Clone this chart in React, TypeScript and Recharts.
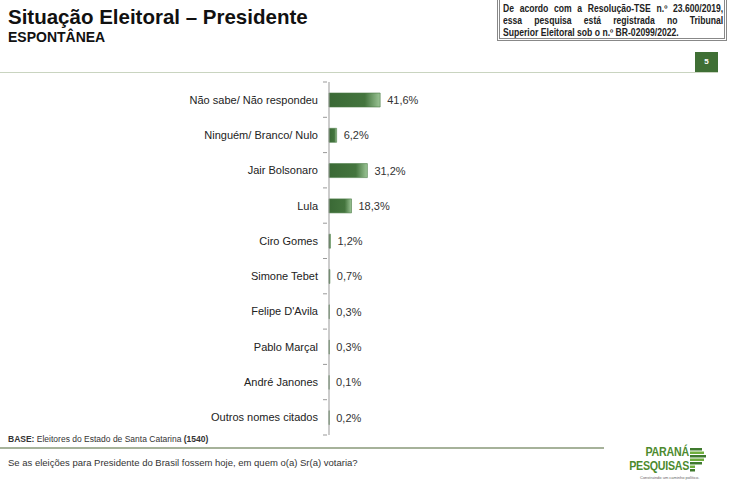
import { Bar, BarChart, XAxis, YAxis, LabelList } from "recharts"

const candidates = [
  "Não sabe/ Não respondeu",
  "Ninguém/ Branco/ Nulo",
  "Jair Bolsonaro",
  "Lula",
  "Ciro Gomes",
  "Simone Tebet",
  "Felipe D'Avila",
  "Pablo Marçal",
  "André Janones",
  "Outros nomes citados",
]
const shares = [41.6, 6.2, 31.2, 18.3, 1.2, 0.7, 0.3, 0.3, 0.1, 0.2]

const data = candidates.map((name, i) => ({ name, value: shares[i] }))

const FONT = "'Liberation Sans', Arial, sans-serif"
const TOP = 82
const BOTTOM = 435
const BAND = (BOTTOM - TOP) / candidates.length

// rótulo do eixo + marca na divisa entre categorias
function CategoryTick(props: any) {
  const { x, y, payload, index } = props
  return (
    <g>
      <text x={x - 3} y={y} dy={4} textAnchor="end" fontSize={11} fill="#222" fontFamily={FONT}>
        {payload.value}
      </text>
      {index === 0 && <line x1={x + 2} x2={x + 6} y1={y - BAND / 2} y2={y - BAND / 2} stroke="#999" />}
      <line x1={x + 2} x2={x + 6} y1={y + BAND / 2} y2={y + BAND / 2} stroke="#999" />
    </g>
  )
}

const fmt = (v: number) => `${v.toFixed(1).replace(".", ",")}%`

const logoText = {
  position: "absolute", right: 41, fontSize: 13, fontWeight: "bold", color: "#4c8a2e", lineHeight: "12px",
  letterSpacing: -0.3, transform: "scaleX(0.82)", transformOrigin: "right top", whiteSpace: "nowrap",
} as any

export default function App() {
  return (
    <div style={{ position: "absolute", left: 0, top: 0, width: 730, height: 500, background: "#fff", fontFamily: FONT, overflow: "hidden" }}>
      <div style={{ position: "absolute", left: 8, top: 5, fontSize: 20.5, fontWeight: "bold", color: "#111" }}>
        Situação Eleitoral – Presidente
      </div>
      <div style={{ position: "absolute", left: 8, top: 29, fontSize: 14, fontWeight: "bold", color: "#111" }}>
        ESPONTÂNEA
      </div>

      <div style={{ position: "absolute", left: 497, top: -4, width: 230, height: 45, border: "3px double #888", boxSizing: "border-box" }} />
      <div
        style={{
          position: "absolute", left: 503, top: 3, width: 256, fontSize: 10, fontWeight: "bold", color: "#222",
          lineHeight: "12px", transform: "scaleX(0.86)", transformOrigin: "left top",
        }}
      >
        <div style={{ textAlign: "justify", textAlignLast: "justify" }}>De acordo com a Resolução-TSE n.º 23.600/2019,</div>
        <div style={{ textAlign: "justify", textAlignLast: "justify" }}>essa pesquisa está registrada no Tribunal</div>
        <div>Superior Eleitoral sob o n.º BR-02099/2022.</div>
      </div>

      <div style={{ position: "absolute", left: 695, top: 52, width: 23, height: 20, background: "#3f6f35", color: "#fff", fontSize: 8, fontWeight: "bold", textAlign: "center", lineHeight: "20px" }}>
        5
      </div>
      <div style={{ position: "absolute", left: 0, top: 72, width: 718, height: 1, background: "#c9d4c0" }} />

      <BarChart
        width={730}
        height={500}
        data={data}
        layout="vertical"
        margin={{ top: TOP, bottom: 500 - BOTTOM, left: 0, right: 278 }}
        style={{ position: "absolute", left: 0, top: 0 }}
      >
        <defs>
          <linearGradient id="barGrad" x1="0" y1="0" x2="1" y2="0">
            <stop offset="0%" stopColor="#3a6935" />
            <stop offset="70%" stopColor="#44753e" />
            <stop offset="100%" stopColor="#9cc596" />
          </linearGradient>
        </defs>
        <XAxis type="number" domain={[0, 100]} hide />
        <YAxis
          type="category"
          dataKey="name"
          width={329}
          axisLine={{ stroke: "#999" }}
          tickLine={false}
          tick={<CategoryTick />}
          interval={0}
        />
        <Bar dataKey="value" fill="url(#barGrad)" stroke="#4a7a44" strokeWidth={0.6} barSize={14} isAnimationActive={false}>
          <LabelList dataKey="value" position="right" offset={7} formatter={fmt as any} fontSize={11} fill="#333" fontFamily={FONT} />
        </Bar>
      </BarChart>

      <div style={{ position: "absolute", left: 8, top: 434, fontSize: 8.5, color: "#333" }}>
        <b>BASE:</b> Eleitores do Estado de Santa Catarina <b>(1540)</b>
      </div>
      <div style={{ position: "absolute", left: 0, top: 447, width: 604, height: 2, background: "#a6b29a" }} />
      <div style={{ position: "absolute", left: 8, top: 457, fontSize: 9.5, color: "#333" }}>
        Se as eleições para Presidente do Brasil fossem hoje, em quem o(a) Sr(a) votaria?
      </div>

      <div style={{ ...logoText, top: 446 }}>PARANÁ</div>
      <div style={{ ...logoText, top: 460 }}>PESQUISAS</div>
      <svg style={{ position: "absolute", left: 690, top: 448 }} width={20} height={30}>
        {[0, 1, 2, 3, 4, 5, 6].map((i) => (
          <rect key={i} x={0} y={i * 3.5} width={i < 5 ? 16 - Math.abs(i - 2) * 2 : 5} height={2.5} fill={i % 2 ? "#6fae3d" : "#3f7a2e"} />
        ))}
      </svg>
      <div style={{ position: "absolute", left: 640, top: 475, fontSize: 4, color: "#666" }}>Construindo um caminho político.</div>
    </div>
  )
}
